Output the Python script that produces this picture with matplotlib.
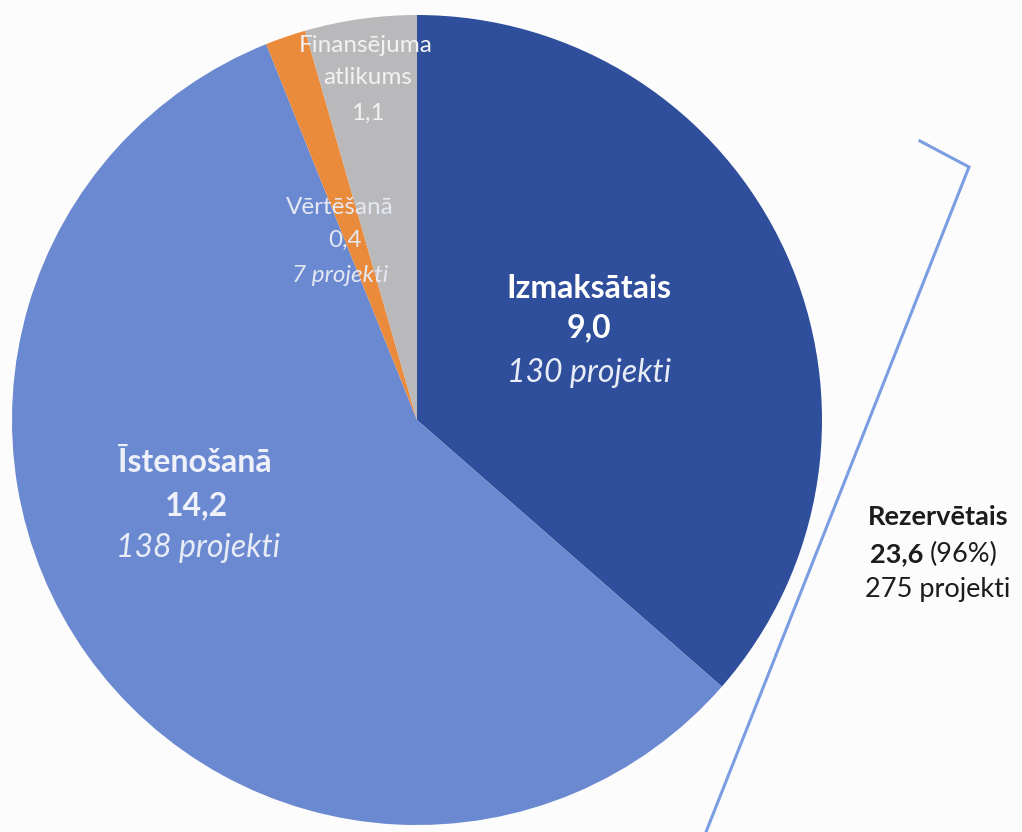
import matplotlib
matplotlib.use("Agg")
import matplotlib.pyplot as plt

# values (milj. EUR) and labels
names = ["Izmaksātais", "Īstenošanā", "Vērtēšanā", "Finansējuma\natlikums"]
values = [9.0, 14.2, 0.4, 1.1]
value_txt = ["9,0", "14,2", "0,4", "1,1"]
projects = ["130 projekti", "138 projekti", "7 projekti", ""]
colors = ["#2f4e9b", "#6b89d1", "#ea8a3b", "#b9b9bb"]

reserved_name = "Rezervētais"
reserved_value = "23,6"
reserved_share = "(96%)"
reserved_projects = "275 projekti"

plt.rcParams['font.family'] = ['Lato', 'DejaVu Sans']

fig = plt.figure(figsize=(10.22, 8.32), dpi=100, facecolor="#fcfcfc")
ax = fig.add_axes([0, 0, 1, 1])
ax.set_facecolor("#fcfcfc")

# pie in pixel-like coords, y goes up
cx, cy, r = 417, 832 - 420, 405
ax.pie(values, colors=colors, startangle=90, counterclock=False,
       center=(cx, cy), radius=r, wedgeprops=dict(linewidth=0))
ax.set_xlim(0, 1022)
ax.set_ylim(0, 832)
ax.set_aspect("equal")
ax.axis("off")

def Y(y):
    return 832 - y

big = 23
small = 17.5
right = 19.5

# Izmaksātais
ax.text(589, Y(288), names[0], color="white", fontsize=big, fontweight="bold", ha="center", va="center")
ax.text(589, Y(328), value_txt[0], color="white", fontsize=big, fontweight="bold", ha="center", va="center")
ax.text(589, Y(373), projects[0], color="#e8ecf6", fontsize=big, style="italic", ha="center", va="center")

# Īstenošanā
ax.text(195, Y(462), names[1], color="#eef1fa", fontsize=big, fontweight="bold", ha="center", va="center")
ax.text(197, Y(506), value_txt[1], color="#eef1fa", fontsize=big, fontweight="bold", ha="center", va="center")
ax.text(198, Y(548), projects[1], color="#e8ecf6", fontsize=big, style="italic", ha="center", va="center")

# Vērtēšanā
ax.text(340, Y(208), names[2], color="#e4e8f2", fontsize=small, ha="center", va="center")
ax.text(345, Y(240), value_txt[2], color="#e4e8f2", fontsize=small, ha="center", va="center")
ax.text(340, Y(276), projects[2], color="#e4e8f2", fontsize=small, style="italic", ha="center", va="center")

# Finansējuma atlikums
ax.text(366, Y(45), "Finansējuma", color="#f2f2f2", fontsize=small, ha="center", va="center")
ax.text(368, Y(78), "atlikums", color="#f2f2f2", fontsize=small, ha="center", va="center")
ax.text(368, Y(113), value_txt[3], color="#f2f2f2", fontsize=small, ha="center", va="center")

# bracket line
ax.plot([920, 969, 706], [Y(141), Y(167), Y(832)], color="#7b9de2", lw=2.2,
        solid_joinstyle="miter", clip_on=False)

# reserved summary
ax.text(938, Y(517), reserved_name, color="#1c1c1c", fontsize=right, fontweight="bold", ha="center", va="center")
ax.text(923, Y(554), reserved_value, color="#1c1c1c", fontsize=right, fontweight="bold", ha="right", va="center")
ax.text(930, Y(554), reserved_share, color="#1c1c1c", fontsize=right, ha="left", va="center")
ax.text(938, Y(590), reserved_projects, color="#1c1c1c", fontsize=right, ha="center", va="center")

fig.savefig("out.png", dpi=100, facecolor=fig.get_facecolor())
